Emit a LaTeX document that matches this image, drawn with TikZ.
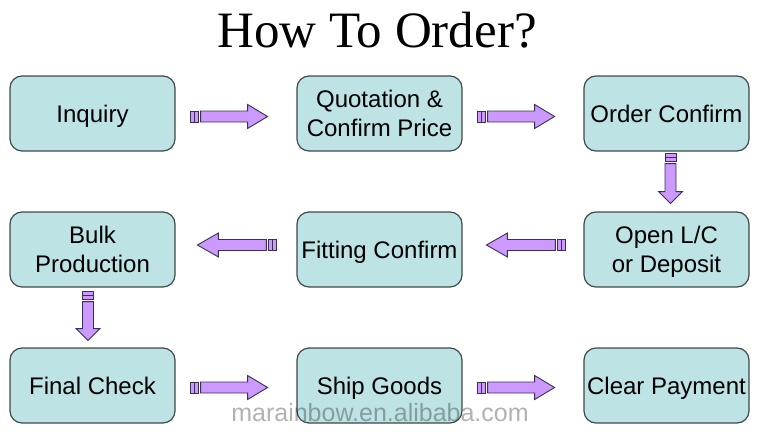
\documentclass[tikz,border=0pt]{standalone}
\usepackage{fontspec}
\setmainfont{Liberation Sans}
\newfontfamily\titlefont{Liberation Serif}
\usetikzlibrary{calc}

\definecolor{boxfill}{HTML}{BDE3E5}
\definecolor{boxline}{HTML}{404848}
\definecolor{arrowfill}{HTML}{CC99FF}
\definecolor{arrowline}{HTML}{3C2F55}

% block arrow: start coordinate, angle, length, head length
\newcommand{\blockarrow}[4]{%
  \begin{scope}[shift={(#1)}, rotate=#2]
    \filldraw[flowarrow] (0,-5.5) rectangle (4,5.5);
    \filldraw[flowarrow] (4,-5.5) rectangle (8,5.5);
    \filldraw[flowarrow] (10,-5.5) -- ({#3-#4},-5.5) -- ({#3-#4},-12) -- (#3,0)
      -- ({#3-#4},12) -- ({#3-#4},5.5) -- (10,5.5) -- cycle;
  \end{scope}}

\begin{document}
\begin{tikzpicture}[x=1pt, y=-1pt,
  stage/.style={draw=boxline, fill=boxfill, line width=1.2pt, rounded corners=12pt,
    minimum width=165pt, minimum height=75pt, inner sep=0pt, align=center,
    text depth=0pt, font=\fontsize{24}{29}\selectfont},
  flowarrow/.style={draw=arrowline, fill=arrowfill, line width=0.9pt, line join=miter}]
\useasboundingbox (0,0) rectangle (761,434);

% title
\node[font=\titlefont\fontsize{51}{60}\selectfont, anchor=base] (title) at (377,47) {How To Order?};

% the nine steps
\node[stage] (inquiry) at (92.5,113.5) {Inquiry};
\node[stage] (quote)   at (379.5,113.5) {Quotation \&\\Confirm Price};
\node[stage] (confirm) at (666.5,113.5) {Order Confirm};

\node[stage] (bulk)    at (92.5,249.5) {Bulk\\Production};
\node[stage] (fitting) at (379.5,249.5) {Fitting Confirm};
\node[stage] (deposit) at (666.5,249.5) {Open L/C\\or Deposit};

\node[stage] (check)   at (92.5,385.5) {Final Check};
\node[stage] (ship)    at (379.5,385.5) {Ship Goods};
\node[stage] (payment) at (666.5,385.5) {Clear Payment};

% arrows between the steps
\coordinate (a1) at ($(inquiry.east)+(15,3)$);
\coordinate (a2) at ($(quote.east)+(15,3)$);
\coordinate (d1) at ($(confirm.south)+(4,2)$);
\coordinate (a3) at ($(deposit.west)+(-18,-4.5)$);
\coordinate (a4) at ($(fitting.west)+(-20,-4.5)$);
\coordinate (d2) at ($(bulk.south)+(-4.5,4)$);
\coordinate (a5) at ($(check.east)+(15,2)$);
\coordinate (a6) at ($(ship.east)+(15,2)$);

\blockarrow{a1}{0}{77}{20}
\blockarrow{a2}{0}{77}{20}
\blockarrow{d1}{-90}{50}{12}
\blockarrow{a3}{180}{79}{21}
\blockarrow{a4}{180}{79}{21}
\blockarrow{d2}{-90}{49}{12}
\blockarrow{a5}{0}{77}{20}
\blockarrow{a6}{0}{77}{20}

% watermark
\node[font=\fontsize{25}{30}\selectfont, text=black, text opacity=0.3, anchor=base] (mark) at (380,421) {marainbow.en.alibaba.com};
\end{tikzpicture}
\end{document}
